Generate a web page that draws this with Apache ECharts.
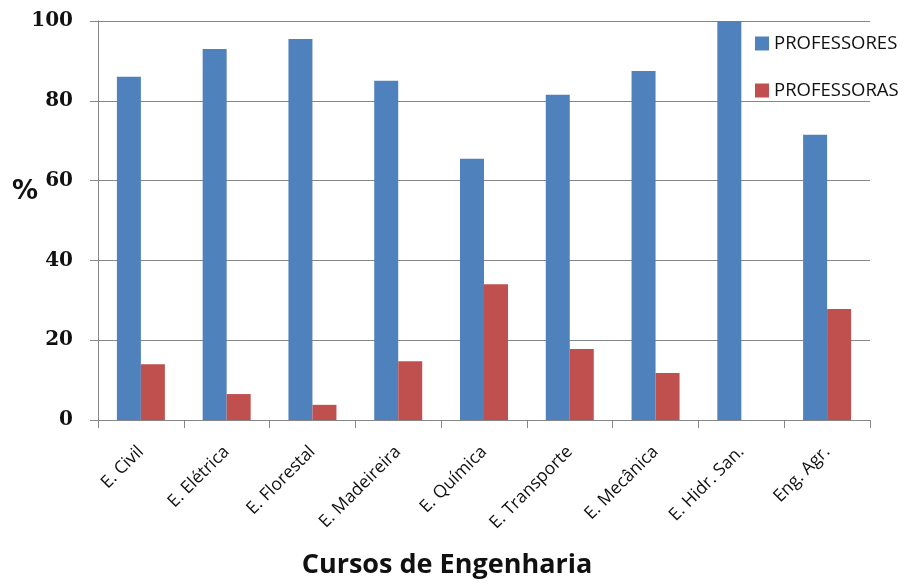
<!DOCTYPE html>
<html><head><meta charset="utf-8">
<script src="https://cdn.jsdelivr.net/npm/echarts@6/dist/echarts.min.js"></script>
<style>html,body{margin:0;padding:0;background:#fff}#c{width:917px;height:584px}</style>
</head><body><div id="c"></div>
<script>
const categories = ['E. Civil','E. Elétrica','E. Florestal','E. Madeireira','E. Química','E. Transporte','E. Mecânica','E. Hidr. San.','Eng. Agr.'];
const professores = [86, 93, 95.5, 85, 65.5, 81.5, 87.5, 100, 71.5];
const professoras = [14, 6.5, 3.8, 14.7, 34, 17.8, 11.8, 0, 27.8];
const yTicks = [0, 20, 40, 60, 80, 100];

const chart = echarts.init(document.getElementById('c'));
chart.setOption({
  animation: false,
  title: {text: '%', left: 7, top: 174, textStyle: {fontFamily: 'DejaVu Sans', fontWeight: 'bold', fontSize: 26, color: '#111'}},
  legend: {
    orient: 'vertical', left: 750, top: 29, itemWidth: 14, itemHeight: 14, itemGap: 28,
    icon: 'rect',
    textStyle: {fontFamily: 'Open Sans', fontSize: 18.5, color: '#111'},
    data: ['PROFESSORES','PROFESSORAS']
  },
  grid: {left: 98, right: 47, top: 21, bottom: 164, containLabel: false, outerBoundsMode: 'none'},
  xAxis: {
    type: 'category', data: categories,
    name: 'Cursos de Engenharia', nameLocation: 'middle', nameGap: 132,
    nameTextStyle: {fontFamily: 'Open Sans', fontWeight: 'bold', fontSize: 27, color: '#111', padding: [0, 74, 0, 0]},
    axisLine: {lineStyle: {color: '#868686', width: 1}},
    axisTick: {show: true, length: 8, lineStyle: {color: '#868686'}},
    axisLabel: {rotate: 45, margin: 29, fontFamily: 'Open Sans', fontSize: 17.5, color: '#111'}
  },
  yAxis: {
    type: 'value', min: yTicks[0], max: yTicks[yTicks.length-1], interval: 20,
    axisLine: {show: true, lineStyle: {color: '#868686'}},
    axisTick: {show: true, length: 8, lineStyle: {color: '#868686'}},
    axisLabel: {margin: 25, fontFamily: 'DejaVu Serif', fontWeight: 'bold', fontSize: 20, color: '#111'},
    splitLine: {lineStyle: {color: '#868686', width: 1}}
  },
  series: [
    {name: 'PROFESSORES', type: 'bar', data: professores, barWidth: 24, barGap: '0%', itemStyle: {color: '#4F81BD'}},
    {name: 'PROFESSORAS', type: 'bar', data: professoras, barWidth: 24, barGap: '0%', itemStyle: {color: '#C0504D'}}
  ]
});
</script></body></html>
